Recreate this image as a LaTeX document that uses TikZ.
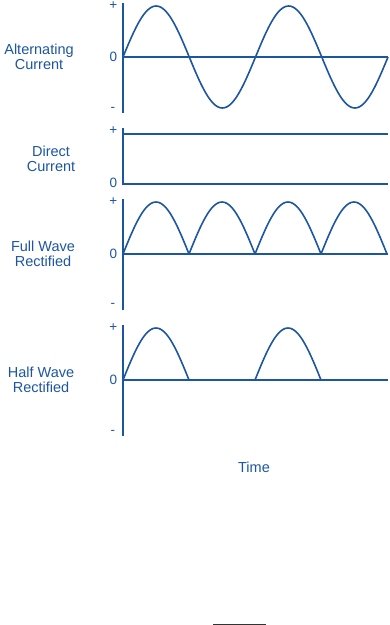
\documentclass[tikz,border=0pt]{standalone}
\usepackage{fontspec}
\setmainfont{Liberation Sans}
\definecolor{wave}{RGB}{28,86,160}
\begin{document}
\begin{tikzpicture}[x=1pt,y=-1pt,line width=1.6pt,draw=wave,
  lbl/.style={font=\fontsize{14.5}{15}\selectfont,align=center,text=wave},
  tick/.style={font=\fontsize{13.5}{13}\selectfont,anchor=east,inner sep=0pt,text=wave}]
\useasboundingbox (0,0) rectangle (390,625);
\node[lbl] (ac) at (39,57) {Alternating\\Current};
\node[tick] (acplus) at (118,6) {+};
\node[tick] (aczero) at (118,57) {0};
\node[tick] (acminus) at (116,109) {-};
\draw (123,3)--(123,113);
\draw (123,57)--(388,57);
\draw[line join=round] plot[domain=0:720,samples=161] ({123+0.36806*\x},{57-51*sin(\x)});
\node[lbl] (dc) at (51,159) {Direct\\Current};
\node[tick] (dcplus) at (118,131) {+};
\node[tick] (dczero) at (118,183) {0};
\draw (123,128)--(123,185);
\draw (123,134)--(388,134);
\draw (123,184)--(388,184);
\node[lbl] (fw) at (43,254) {Full Wave\\Rectified};
\node[tick] (fwplus) at (118,202) {+};
\node[tick] (fwzero) at (118,254) {0};
\node[tick] (fwminus) at (116,305) {-};
\draw (123,199)--(123,310);
\draw (123,254)--(388,254);
\foreach \s in {123,189,255,321}
  \draw plot[domain=0:180,samples=41] ({\s+0.36667*\x},{254-52*sin(\x)});
\node[lbl] (hw) at (41,380) {Half Wave\\Rectified};
\node[tick] (hwplus) at (118,328) {+};
\node[tick] (hwzero) at (118,380) {0};
\node[tick] (hwminus) at (116,432) {-};
\draw (123,325)--(123,436);
\draw (123,380)--(388,380);
\foreach \s in {123,255}
  \draw plot[domain=0:180,samples=41] ({\s+0.36667*\x},{380-52*sin(\x)});
\node[lbl] (time) at (254,467) {Time};
\draw[line width=1pt,draw=black!80] (213,624)--(266,624);
\end{tikzpicture}
\end{document}
